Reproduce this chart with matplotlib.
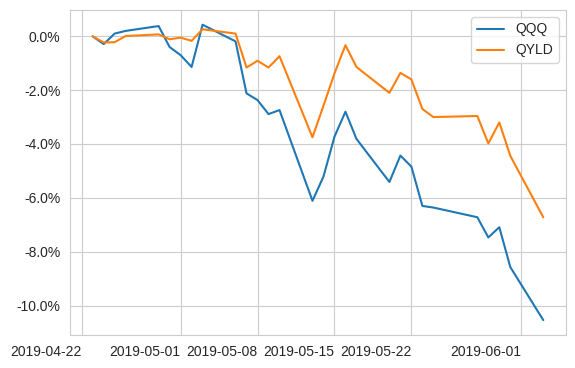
import pandas as pd
import matplotlib
matplotlib.use("Agg")
import matplotlib.pyplot as plt
import matplotlib.ticker as mticker
import seaborn as sns

dates = pd.to_datetime([
    "2019-04-23", "2019-04-24", "2019-04-25", "2019-04-26", "2019-04-29", "2019-04-30",
    "2019-05-01", "2019-05-02", "2019-05-03", "2019-05-06", "2019-05-07", "2019-05-08",
    "2019-05-09", "2019-05-10", "2019-05-13", "2019-05-14", "2019-05-15", "2019-05-16",
    "2019-05-17", "2019-05-20", "2019-05-21", "2019-05-22", "2019-05-23", "2019-05-24",
    "2019-05-28", "2019-05-29", "2019-05-30", "2019-05-31", "2019-06-03",
])

# cumulative return, percent
qqq = [0.0, -0.29, 0.10, 0.20, 0.38, -0.40, -0.70, -1.14, 0.43, -0.19, -2.12, -2.37,
       -2.89, -2.74, -6.11, -5.21, -3.73, -2.80, -3.81, -5.41, -4.43, -4.84, -6.30, -6.36,
       -6.72, -7.47, -7.09, -8.57, -10.54]
qyld = [0.0, -0.23, -0.22, 0.01, 0.07, -0.11, -0.05, -0.17, 0.26, 0.10, -1.16, -0.91,
        -1.16, -0.74, -3.75, -2.58, -1.38, -0.33, -1.14, -2.10, -1.36, -1.60, -2.70, -3.00,
        -2.96, -3.98, -3.20, -4.44, -6.72]

sns.set_style("whitegrid")
plt.rcParams["font.family"] = ["Liberation Sans", "DejaVu Sans"]

fig, ax = plt.subplots(figsize=(5.75, 3.68), dpi=100)
fig.subplots_adjust(left=0.122, right=0.984, top=0.973, bottom=0.09)

ax.plot(dates, qqq, label="QQQ")
ax.plot(dates, qyld, label="QYLD")

ax.yaxis.set_major_formatter(mticker.FuncFormatter(lambda v, p: "{:.1f}%".format(v)))
ax.legend(loc="upper right")

fig.canvas.draw()
for lbl in ax.get_xticklabels():
    lbl.set_ha("right")

fig.savefig("out.png", dpi=100)
